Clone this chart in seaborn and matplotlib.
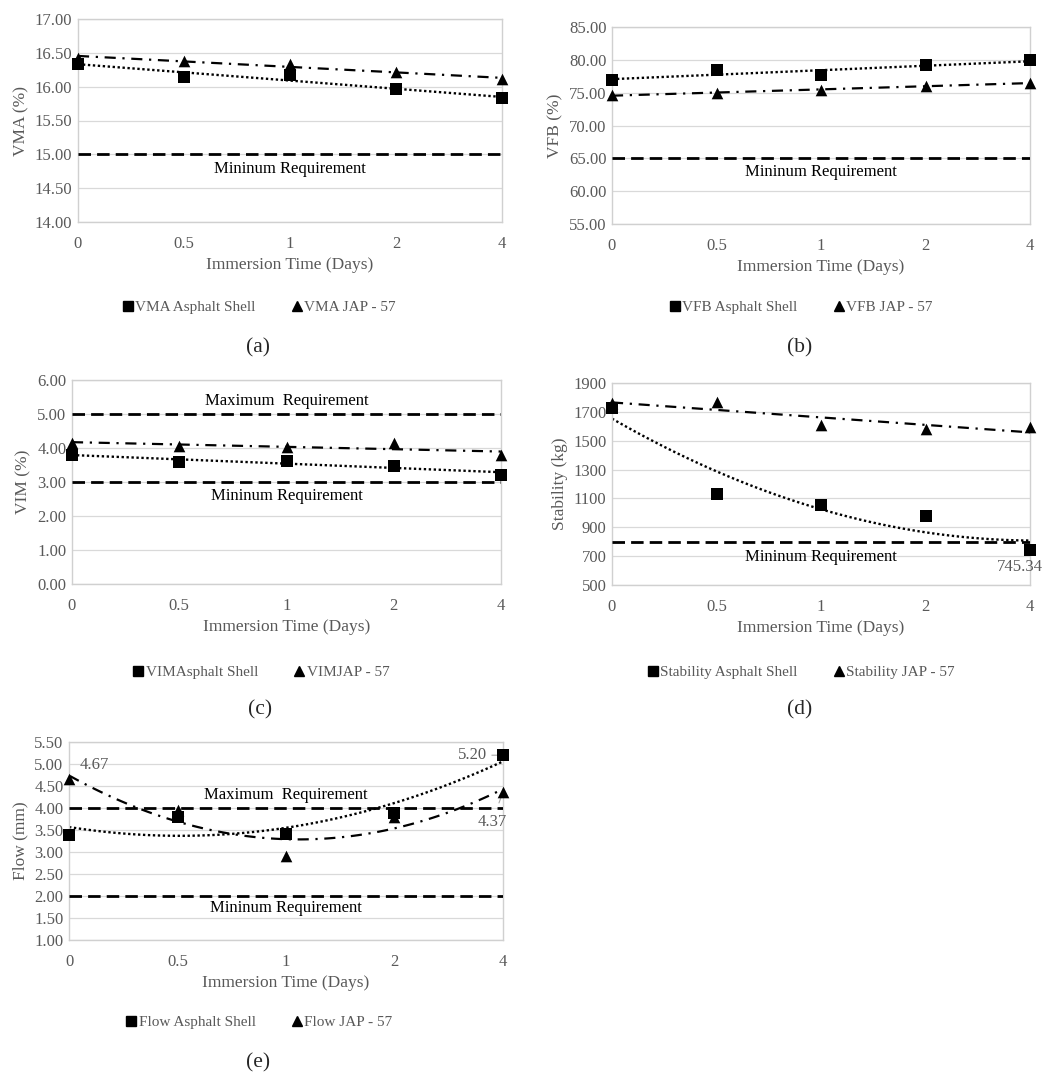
import numpy as np
import pandas as pd
import matplotlib
matplotlib.use('Agg')
import matplotlib.pyplot as plt
import seaborn as sns

# ---------------- data ----------------
days = ['0', '0.5', '1', '2', '4']
vma_shell = [16.34, 16.15, 16.17, 15.96, 15.83]
vma_jap = [16.43, 16.38, 16.33, 16.21, 16.11]
vfb_shell = [76.9, 78.4, 77.7, 79.2, 79.9]
vfb_jap = [74.6, 75.0, 75.4, 76.0, 76.5]
vim_shell = [3.78, 3.60, 3.63, 3.48, 3.21]
vim_jap = [4.16, 4.07, 4.02, 4.14, 3.78]
stab_shell = [1726, 1132, 1055, 981, 745.34]
stab_jap = [1761, 1766, 1606, 1581, 1594]
flow_shell = [3.38, 3.79, 3.41, 3.88, 5.20]
flow_jap = [4.67, 3.96, 2.90, 3.79, 4.37]

sns.set_style('white')
plt.rcParams['font.family'] = ['Liberation Serif', 'DejaVu Serif']

W, H = 1052, 1075
fig = plt.figure(figsize=(W / 100, H / 100), dpi=100)
GRAY = '#595959'


def rect(l, r, t, b):
    return [l / W, 1 - b / H, (r - l) / W, (b - t) / H]


def panel(box, shell, jap, order_s, order_j, ylim, yticks, fmt, ylabel,
          labels, reqs, legend_xy, letter, letter_y):
    ax = fig.add_axes(rect(*box))
    idx = np.arange(len(days))
    df = pd.DataFrame({'idx': idx, 'shell': shell, 'jap': jap})
    sns.regplot(data=df, x='idx', y='shell', order=order_s, ci=None,
                scatter=False, ax=ax,
                line_kws=dict(color='black', lw=1.7, ls=(0, (1, 1.1))))
    sns.regplot(data=df, x='idx', y='jap', order=order_j, ci=None,
                scatter=False, ax=ax,
                line_kws=dict(color='black', lw=1.6, ls=(0, (5, 3, 1, 3))))
    for (yv, txt, dy) in reqs:
        ax.axhline(yv, color='black', lw=2.0, ls=(0, (4.5, 2.2)), zorder=3)
        ax.text(2, yv + dy, txt, ha='center', va='center', fontsize=12,
                color='black')
    sns.scatterplot(data=df, x='idx', y='shell', marker='s', s=70,
                    color='black', linewidth=0, ax=ax, label=labels[0],
                    clip_on=False, zorder=6, legend=False)
    sns.scatterplot(data=df, x='idx', y='jap', marker='^', s=70,
                    color='black', linewidth=0, ax=ax, label=labels[1],
                    clip_on=False, zorder=6, legend=False)
    ax.set_xlim(0, 4)
    ax.set_ylim(*ylim)
    ax.set_yticks(yticks)
    ax.set_yticklabels([fmt.format(v) for v in yticks])
    ax.set_xticks(idx)
    ax.set_xticklabels(days)
    ax.tick_params(length=0, colors=GRAY, labelsize=12)
    ax.tick_params(axis='x', pad=10)
    ax.tick_params(axis='y', pad=4)
    ax.yaxis.grid(True, color='#d9d9d9', lw=0.9)
    ax.xaxis.grid(False)
    ax.set_axisbelow(True)
    for sp in ax.spines.values():
        sp.set_color('#d0d0d0')
        sp.set_linewidth(1.0)
    ax.set_xlabel('Immersion Time (Days)', color=GRAY, fontsize=12.5,
                  labelpad=4)
    ax.set_ylabel(ylabel, color=GRAY, fontsize=12.5, labelpad=4)
    from matplotlib.lines import Line2D
    hs = [Line2D([], [], marker='s', color='black', ls='none', markersize=7),
          Line2D([], [], marker='^', color='black', ls='none', markersize=7)]
    ax.legend(hs, labels, loc='center',
              bbox_to_anchor=(legend_xy[0] / W, 1 - legend_xy[1] / H),
              bbox_transform=fig.transFigure, ncol=2, frameon=False,
              fontsize=11, handletextpad=0.0, columnspacing=2.2,
              labelcolor=GRAY, handlelength=1.0)
    fig.text(legend_xy[0] / W, 1 - letter_y / H, letter, ha='center',
             va='center', fontsize=15.5)
    return ax


# (a)
panel((78, 502, 19, 222), vma_shell, vma_jap, 1, 1, (14, 17),
      [14, 14.5, 15, 15.5, 16, 16.5, 17], '{:.2f}', 'VMA (%)',
      ['VMA Asphalt Shell', 'VMA JAP - 57'],
      [(15.0, 'Mininum Requirement', -0.22)], (258, 307), '(a)', 348)
# (b)
panel((612, 1030, 27, 224), vfb_shell, vfb_jap, 1, 1, (55, 85),
      [55, 60, 65, 70, 75, 80, 85], '{:.2f}', 'VFB (%)',
      ['VFB Asphalt Shell', 'VFB JAP - 57'],
      [(65.0, 'Mininum Requirement', -2.1)], (800, 307), '(b)', 348)
# (c)
panel((72, 501, 380, 584), vim_shell, vim_jap, 1, 1, (0, 6),
      [0, 1, 2, 3, 4, 5, 6], '{:.2f}', 'VIM (%)',
      ['VIMAsphalt Shell', 'VIMJAP - 57'],
      [(5.0, 'Maximum  Requirement', 0.38), (3.0, 'Mininum Requirement', -0.42)],
      (260, 672), '(c)', 710)
# (d)
axd = panel((612, 1030, 383, 585), stab_shell, stab_jap, 2, 1, (500, 1900),
            [500, 700, 900, 1100, 1300, 1500, 1700, 1900], '{:.0f}',
            'Stability (kg)',
            ['Stability Asphalt Shell', 'Stability JAP - 57'],
            [(800, 'Mininum Requirement', -105)], (800, 672), '(d)', 710)
axd.text(3.9, 627, '{:.2f}'.format(stab_shell[4]), ha='center', va='center',
         fontsize=12, color=GRAY)
# (e)
axe = panel((69, 503, 742, 940), flow_shell, flow_jap, 2, 2, (1, 5.5),
            [1, 1.5, 2, 2.5, 3, 3.5, 4, 4.5, 5, 5.5], '{:.2f}', 'Flow (mm)',
            ['Flow Asphalt Shell', 'Flow JAP - 57'],
            [(4.0, 'Maximum  Requirement', 0.29), (2.0, 'Mininum Requirement', -0.28)],
            (258, 1022), '(e)', 1063)
axe.text(0.23, 4.98, '{:.2f}'.format(flow_jap[0]), ha='center', va='center',
         fontsize=12, color=GRAY)
axe.annotate('{:.2f}'.format(flow_shell[4]), xy=(4, flow_shell[4]),
             xytext=(3.72, flow_shell[4]), ha='center', va='center',
             fontsize=12, color=GRAY,
             arrowprops=dict(arrowstyle='-', color='#a6a6a6', lw=0.8,
                             shrinkA=1, shrinkB=4))
axe.annotate('{:.2f}'.format(flow_jap[4]), xy=(4, flow_jap[4]),
             xytext=(3.9, 3.68), ha='center', va='center',
             fontsize=12, color=GRAY,
             arrowprops=dict(arrowstyle='-', color='#a6a6a6', lw=0.8,
                             shrinkA=6, shrinkB=4))

fig.savefig('out.png', dpi=100)
